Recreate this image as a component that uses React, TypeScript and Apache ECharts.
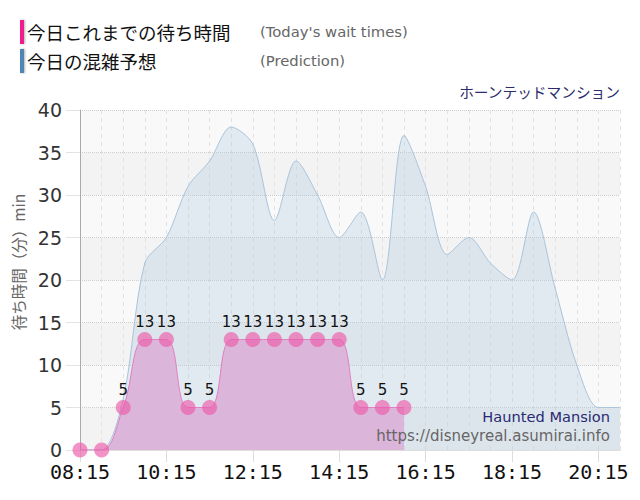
import { useEffect, useRef } from 'react';
import * as echarts from 'echarts';

// half-hour slots, 08:15 .. 20:45
const times = [
  '08:15', '08:45', '09:15', '09:45', '10:15', '10:45', '11:15', '11:45',
  '12:15', '12:45', '13:15', '13:45', '14:15', '14:45', '15:15', '15:45',
  '16:15', '16:45', '17:15', '17:45', '18:15', '18:45', '19:15', '19:45',
  '20:15', '20:45',
];

// today's actual wait times (so far)
const waitTimes = [0, 0, 5, 13, 13, 5, 5, 13, 13, 13, 13, 13, 13, 5, 5, 5];

// predicted wait times
const prediction = [
  0, 0, 6, 22, 25, 31, 34, 38, 36, 27, 34, 30, 25, 28, 20, 37,
  31, 23, 25, 22, 20, 28, 19, 10, 5, 5,
];

const JP = '"Noto Sans CJK JP", "Noto Sans", sans-serif';
const SANS = '"DejaVu Sans", Verdana, sans-serif';

export default function App() {
  const chartRef = useRef<HTMLDivElement>(null);

  useEffect(() => {
    if (!chartRef.current) return;
    const chart = echarts.init(chartRef.current, null, { renderer: 'svg' });

    const option: echarts.EChartsOption = {
      animation: false,
      grid: { left: 80, right: 20, top: 110, bottom: 50 },
      xAxis: {
        type: 'category',
        data: times,
        boundaryGap: false,
        axisLine: { show: true, lineStyle: { color: '#dddddd' } },
        axisTick: { show: true, interval: 3, length: 12, lineStyle: { color: '#dddddd' } },
        axisLabel: {
          interval: 3,
          fontFamily: '"DejaVu Sans Mono", monospace',
          fontSize: 20,
          color: '#111111',
          margin: 12,
        },
        splitLine: {
          show: true,
          interval: 0,
          lineStyle: { type: [4, 4], color: '#e2e2e2' },
        },
      },
      yAxis: {
        type: 'value',
        min: 0,
        max: 40,
        interval: 5,
        axisLine: { show: true, lineStyle: { color: '#aaaaaa' } },
        axisTick: { show: true, length: 14, lineStyle: { color: '#e3e3e3' } },
        axisLabel: { fontFamily: SANS, fontSize: 19, color: '#333333', margin: 18 },
        splitLine: { lineStyle: { type: 'dotted', color: '#cccccc' } },
        splitArea: { show: true, areaStyle: { color: ['#f3f3f3', '#f9f9f9'] } },
      },
      graphic: [
        { type: 'rect', x: 20, y: 20, shape: { width: 4, height: 24 }, style: { fill: '#ee1a8c', shadowBlur: 2, shadowOffsetX: 1, shadowColor: 'rgba(0,0,0,0.3)' } },
        { type: 'rect', x: 20, y: 49, shape: { width: 4, height: 24 }, style: { fill: '#4f85b5', shadowBlur: 2, shadowOffsetX: 1, shadowColor: 'rgba(0,0,0,0.3)' } },
        { type: 'text', x: 27, y: 32, style: { text: '今日これまでの待ち時間', fontFamily: JP, fontSize: 18.5, fill: '#111111', verticalAlign: 'middle' } },
        { type: 'text', x: 27, y: 61, style: { text: '今日の混雑予想', fontFamily: JP, fontSize: 18.5, fill: '#111111', verticalAlign: 'middle' } },
        { type: 'text', x: 260, y: 31, style: { text: "(Today's wait times)", fontFamily: SANS, fontSize: 14.8, fill: '#666666', verticalAlign: 'middle' } },
        { type: 'text', x: 260, y: 60, style: { text: '(Prediction)', fontFamily: SANS, fontSize: 14.8, fill: '#666666', verticalAlign: 'middle' } },
        { type: 'text', x: 620, y: 91, style: { text: 'ホーンテッドマンション', fontFamily: JP, fontSize: 14.7, fill: '#2b2b6e', align: 'right', verticalAlign: 'middle' } },
        { type: 'text', x: 18, y: 262, rotation: Math.PI / 2, style: { text: '待ち時間（分）min', fontFamily: JP, fontSize: 15.5, fill: '#666666', align: 'center', verticalAlign: 'middle' } },
        { type: 'text', x: 610, y: 416, z: 10, style: { text: 'Haunted Mansion', fontFamily: SANS, fontSize: 14.6, fill: '#2a2a72', align: 'right', verticalAlign: 'middle' } },
        { type: 'text', x: 610, y: 436, z: 10, style: { text: 'https://disneyreal.asumirai.info', fontFamily: SANS, fontSize: 15, fill: '#666666', align: 'right', verticalAlign: 'middle' } },
      ],
      series: [
        {
          name: '今日の混雑予想',
          type: 'line',
          data: prediction,
          smooth: 0.3,
          symbol: 'none',
          lineStyle: { color: '#a9c3da', width: 1 },
          areaStyle: { color: 'rgba(170,198,222,0.42)' },
          z: 2,
        },
        {
          name: '今日これまでの待ち時間',
          type: 'line',
          data: waitTimes,
          smooth: 0.4,
          symbol: 'circle',
          symbolSize: 15,
          showAllSymbol: true,
          itemStyle: { color: 'rgba(236,90,170,0.65)' },
          lineStyle: { color: '#e07fc0', width: 1 },
          areaStyle: { color: '#dcb5da', opacity: 1 },
          label: {
            show: true,
            position: 'top',
            distance: 3,
            fontFamily: SANS,
            fontSize: 15,
            color: '#111111',
            formatter: (p: any) => (p.value > 0 ? String(p.value) : ''),
          },
          labelLayout: { hideOverlap: false },
          z: 3,
        },
      ],
    };

    chart.setOption(option);
    return () => chart.dispose();
  }, []);

  return (
    <div
      ref={chartRef}
      style={{ position: 'absolute', left: 0, top: 0, width: 640, height: 500 }}
    />
  );
}
